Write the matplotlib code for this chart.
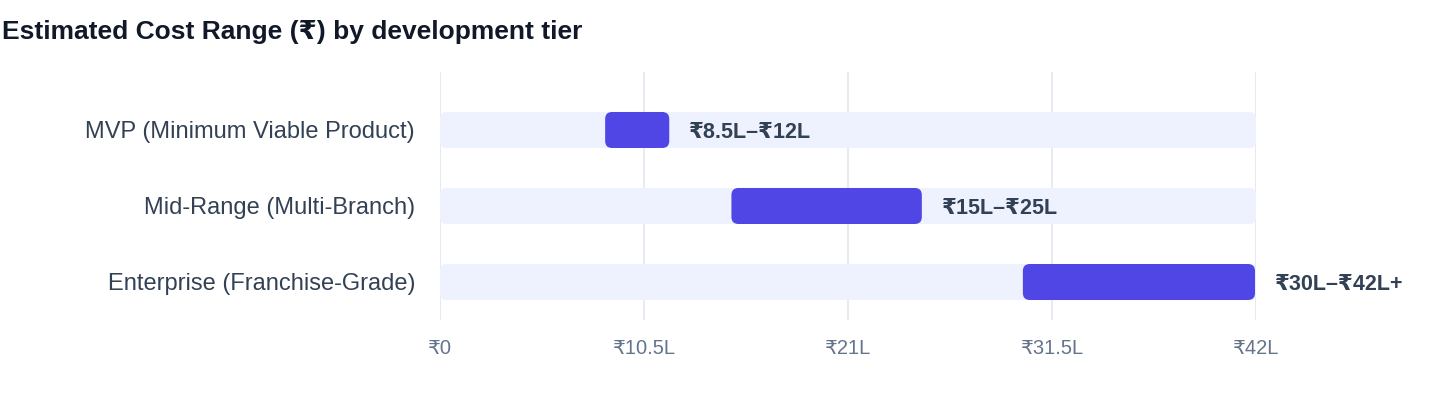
import matplotlib
matplotlib.use("Agg")
from matplotlib import pyplot as plt
from matplotlib.patches import FancyBboxPatch

plt.rcParams['font.family'] = ['Liberation Sans', 'DejaVu Sans']

tiers = ['MVP (Minimum Viable Product)', 'Mid-Range (Multi-Branch)', 'Enterprise (Franchise-Grade)']
low = [8.5, 15, 30]
high = [11.8, 24.8, 41.95]
range_labels = ['₹8.5L–₹12L', '₹15L–₹25L', '₹30L–₹42L+']
tick_vals = [0, 10.5, 21, 31.5, 42]
tick_labels = ['₹0', '₹10.5L', '₹21L', '₹31.5L', '₹42L']
x_max = 42

indigo = '#4F46E5'
track = '#EEF2FF'
grid = '#E2E8F0'

fig = plt.figure(figsize=(14.4, 4.08), dpi=100)
ax = fig.add_axes([440 / 1440, 1 - 320 / 408, 816 / 1440, 248 / 408])

ax.set_xlim(0, x_max)
ax.set_ylim(2.5, -0.763)

# pixel scale so rounded corners look round
px_x = 816 / x_max
px_y = 76.0
aspect = px_x / px_y
h = 36 / px_y

for v in tick_vals:
    ax.axvline(v, color=grid, lw=1.2, zorder=0)

for i in range(len(tiers)):
    r = 6 / px_x
    bg = FancyBboxPatch((0, i - h / 2), x_max, h,
                        boxstyle=f"round,pad=0,rounding_size={r}",
                        mutation_aspect=aspect, fc=track, ec='none', zorder=1)
    ax.add_patch(bg)
    r = 7 / px_x
    bar = FancyBboxPatch((low[i], i - h / 2), high[i] - low[i], h,
                         boxstyle=f"round,pad=0,rounding_size={r}",
                         mutation_aspect=aspect, fc=indigo, ec='none', zorder=2)
    ax.add_patch(bar)
    ax.annotate(range_labels[i], (high[i], i), xytext=(20, 0), textcoords='offset pixels',
                ha='left', va='center_baseline', fontsize=15.5, fontweight='bold', color='#334155')

ax.set_yticks(range(len(tiers)))
ax.set_yticklabels(tiers, fontsize=17, color='#334155')
ax.set_xticks(tick_vals)
ax.set_xticklabels(tick_labels, fontsize=14.5, color='#64748B')
ax.tick_params(axis='y', length=0, pad=18)
ax.tick_params(axis='x', length=0, pad=14)

for s in ax.spines.values():
    s.set_visible(False)

fig.text(2 / 1440, 1 - 32 / 408, 'Estimated Cost Range (₹) by development tier',
         fontsize=19, fontweight='bold', color='#111827', ha='left', va='center')

fig.savefig('out.png', dpi=100)
